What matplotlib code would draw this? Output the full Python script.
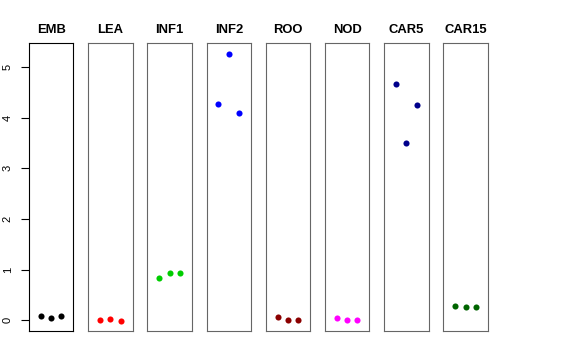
import matplotlib
matplotlib.use("Agg")
import matplotlib.pyplot as plt

plt.rcParams['font.family'] = ['Liberation Sans', 'DejaVu Sans']

categories = ['EMB', 'LEA', 'INF1', 'INF2', 'ROO', 'NOD', 'CAR5', 'CAR15']
colors = ['#000000', '#FF0000', '#00CD00', '#0000FF', '#8B0000', '#FF00FF', '#00008B', '#006400']
replicates = [1, 2, 3]
emb = [0.085, 0.045, 0.09]
lea = [0.0, 0.03, -0.005]
inf1 = [0.84, 0.93, 0.94]
inf2 = [4.26, 5.26, 4.10]
roo = [0.06, 0.012, 0.0]
nod = [0.04, 0.0, 0.0]
car5 = [4.66, 3.50, 4.24]
car15 = [0.28, 0.26, 0.27]
series = [emb, lea, inf1, inf2, roo, nod, car5, car15]
yticks = [0, 1, 2, 3, 4, 5]

W, H = 576, 360
fig = plt.figure(figsize=(W / 100, H / 100), dpi=100)

left0 = 29.0
pitch = 59.19
pw = 44.4
top = 43.3
bottom = 330.7

for i, (cat, col, vals) in enumerate(zip(categories, colors, series)):
    l = left0 + i * pitch
    ax = fig.add_axes([l / W, (H - bottom) / H, pw / W, (bottom - top) / H])
    ax.plot(replicates, vals, 'o', color=col, markersize=4.4, markeredgewidth=0)
    ax.set_xlim(-0.16, 4.16)
    ax.set_ylim(-0.205, 5.467)
    ax.set_xticks([])
    edge = '#000000' if i == 0 else '#666666'
    for s in ax.spines.values():
        s.set_color(edge)
        s.set_linewidth(0.8)
    ax.set_title(cat, fontsize=9.4, fontweight='bold', pad=7.2)
    if i == 0:
        ax.set_yticks(yticks)
        ax.set_yticklabels([str(t) for t in yticks], rotation=90, va='center', fontsize=8)
        ax.tick_params(axis='y', length=5.8, width=0.8, pad=6, color='black')
    else:
        ax.set_yticks([])

fig.savefig('out.png', dpi=100)
